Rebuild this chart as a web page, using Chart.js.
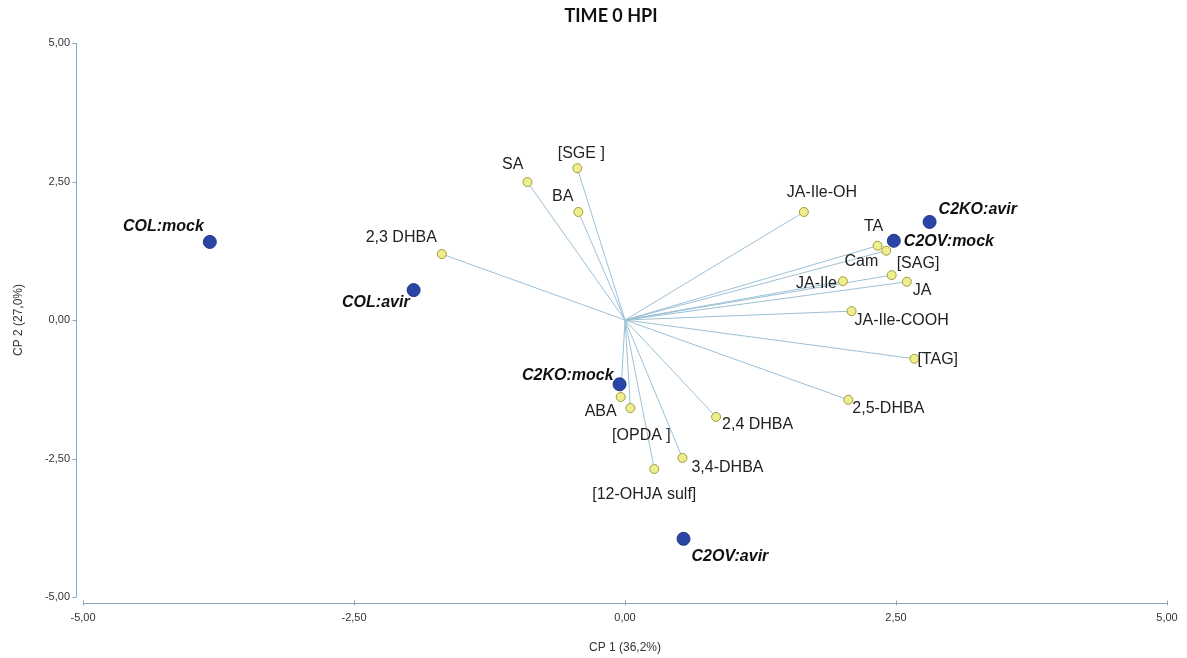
<!DOCTYPE html>
<html>
<head>
<meta charset="utf-8">
<title>TIME 0 HPI</title>
<script src="https://cdn.jsdelivr.net/npm/chart.js@4.4.1/dist/chart.umd.min.js"></script>
<style>
    html, body { margin: 0; padding: 0; background: #fff; }
    #wrap { width: 1187px; height: 658px; position: relative; }
</style>
</head>
<body>
<div id="wrap"><canvas id="pcaChart"></canvas></div>
<script>
// PCA biplot, time 0 hpi

// Sample scores (CP1, CP2)
const sampleNames = ['COL:mock', 'COL:avir', 'C2KO:mock', 'C2KO:avir', 'C2OV:mock', 'C2OV:avir'];
const sampleX = [-3.83, -1.95, -0.05, 2.81, 2.48, 0.54];
const sampleY = [1.41, 0.54, -1.16, 1.77, 1.43, -3.95];

// Variable loadings (CP1, CP2)
const varNames = ['SA', '[SGE ]', 'BA', '2,3 DHBA', 'JA-Ile-OH', 'TA', 'Cam', '[SAG]', 'JA', 'JA-Ile',
    'JA-Ile-COOH', '[TAG]', '2,5-DHBA', 'ABA', '[OPDA ]', '2,4 DHBA', '3,4-DHBA', '[12-OHJA sulf]'];
const varX = [-0.90, -0.44, -0.43, -1.69, 1.65, 2.33, 2.41, 2.46, 2.60, 2.01,
    2.09, 2.67, 2.06, -0.04, 0.05, 0.84, 0.53, 0.27];
const varY = [2.49, 2.74, 1.95, 1.19, 1.95, 1.34, 1.25, 0.81, 0.69, 0.70,
    0.16, -0.70, -1.44, -1.39, -1.59, -1.75, -2.49, -2.69];

// Axis ticks
const tickValues = [-5, -2.5, 0, 2.5, 5];

// Label placement (px offset from the point + alignment)
const sampleLabelPos = [[-6, -15, 'right'], [-4, 13, 'right'], [-6, -9, 'right'], [9, -12, 'left'], [10, 1, 'left'], [8, 18, 'left']];
const varLabelPos = [[-4, -17, 'right'], [4, -15, 'center'], [-5, -15, 'right'], [-5, -16, 'right'], [18, -19, 'center'],
    [-4, -19, 'center'], [-8, 11, 'right'], [5, -12, 'left'], [6, 9, 'left'], [-6, 2, 'right'],
    [3, 9, 'left'], [3, 1, 'left'], [4, 9, 'left'], [-4, 15, 'right'], [11, 28, 'center'],
    [6, 8, 'left'], [9, 10, 'left'], [-10, 26, 'center']];

const AXIS_COLOR = '#86a9c2';
const fmt = v => Number(v).toFixed(2).replace('.', ',');

// vectors from origin to each loading
const vectorSets = varNames.map((name, i) => ({
    type: 'line',
    label: name,
    data: [{ x: 0, y: 0 }, { x: varX[i], y: varY[i] }],
    borderColor: '#9cc0d6',
    borderWidth: 1,
    pointRadius: 0,
    order: 3
}));

const labelsPlugin = {
    id: 'pcaExtras',
    afterDraw(chart) {
        const { ctx, chartArea, scales: { x, y } } = chart;
        ctx.save();

        // title
        ctx.fillStyle = '#111';
        ctx.font = 'bold 18px Lato';
        ctx.textAlign = 'center';
        ctx.textBaseline = 'middle';
        ctx.fillText('TIME 0 HPI', 611, 16);

        // axis lines, offset from the plot area
        ctx.strokeStyle = AXIS_COLOR;
        ctx.lineWidth = 1;
        const ax = chartArea.left - 6.5;
        const ay = chartArea.bottom + 6.5;
        ctx.beginPath();
        ctx.moveTo(ax, y.getPixelForValue(5));
        ctx.lineTo(ax, y.getPixelForValue(-5));
        tickValues.forEach(v => {
            const py = Math.round(y.getPixelForValue(v)) + 0.5;
            ctx.moveTo(ax - 4, py);
            ctx.lineTo(ax, py);
        });
        ctx.moveTo(x.getPixelForValue(-5), ay);
        ctx.lineTo(x.getPixelForValue(5), ay);
        tickValues.forEach(v => {
            const px = Math.round(x.getPixelForValue(v)) + 0.5;
            ctx.moveTo(px, ay - 3);
            ctx.lineTo(px, ay + 2);
        });
        ctx.stroke();

        // variable labels
        ctx.font = '16px "Liberation Sans"';
        ctx.fillStyle = '#222';
        varNames.forEach((name, i) => {
            const [dx, dy, align] = varLabelPos[i];
            ctx.textAlign = align;
            ctx.fillText(name, x.getPixelForValue(varX[i]) + dx, y.getPixelForValue(varY[i]) + dy);
        });

        // sample labels
        ctx.font = 'italic bold 16px "Liberation Sans"';
        ctx.fillStyle = '#111';
        sampleNames.forEach((name, i) => {
            const [dx, dy, align] = sampleLabelPos[i];
            ctx.textAlign = align;
            ctx.fillText(name, x.getPixelForValue(sampleX[i]) + dx, y.getPixelForValue(sampleY[i]) + dy);
        });

        ctx.restore();
    }
};

const tickFont = { family: 'Liberation Sans', size: 11 };
const titleFont = { family: 'Liberation Sans', size: 12 };

new Chart(document.getElementById('pcaChart'), {
    type: 'scatter',
    data: {
        datasets: [
            {
                label: 'Samples',
                data: sampleX.map((v, i) => ({ x: v, y: sampleY[i] })),
                backgroundColor: '#2b45a6',
                borderColor: '#1f347f',
                borderWidth: 1,
                pointRadius: 6.5,
                order: 1
            },
            {
                label: 'Variables',
                data: varX.map((v, i) => ({ x: v, y: varY[i] })),
                backgroundColor: '#eeee8e',
                borderColor: '#9f9c3e',
                borderWidth: 1,
                pointRadius: 4.5,
                order: 2
            },
            ...vectorSets
        ]
    },
    options: {
        responsive: true,
        maintainAspectRatio: false,
        animation: false,
        layout: { padding: { top: 43, right: 20, bottom: 0, left: 0 } },
        plugins: {
            legend: { display: false },
            tooltip: { enabled: false },
            title: { display: false }
        },
        scales: {
            x: {
                type: 'linear',
                min: -5,
                max: 5,
                afterBuildTicks: s => { s.ticks = tickValues.map(v => ({ value: v })); },
                afterFit: s => { s.height = 61; s.paddingLeft = 0; s.paddingRight = 0; },
                ticks: { callback: fmt, font: tickFont, color: '#333', padding: 14, maxRotation: 0 },
                grid: { display: false, drawTicks: false },
                border: { display: false },
                title: { display: true, text: 'CP 1 (36,2%)', font: titleFont, color: '#333', padding: { top: 0, bottom: 3 } }
            },
            y: {
                type: 'linear',
                min: -5,
                max: 5,
                afterBuildTicks: s => { s.ticks = tickValues.map(v => ({ value: v })); },
                afterFit: s => { s.width = 83; s.paddingTop = 0; s.paddingBottom = 0; },
                ticks: { callback: fmt, font: tickFont, color: '#333', padding: 13 },
                grid: { display: false, drawTicks: false },
                border: { display: false },
                title: { display: true, text: 'CP 2 (27,0%)', font: titleFont, color: '#333', padding: { top: 11, bottom: 0 } }
            }
        }
    },
    plugins: [labelsPlugin]
});
</script>
</body>
</html>
